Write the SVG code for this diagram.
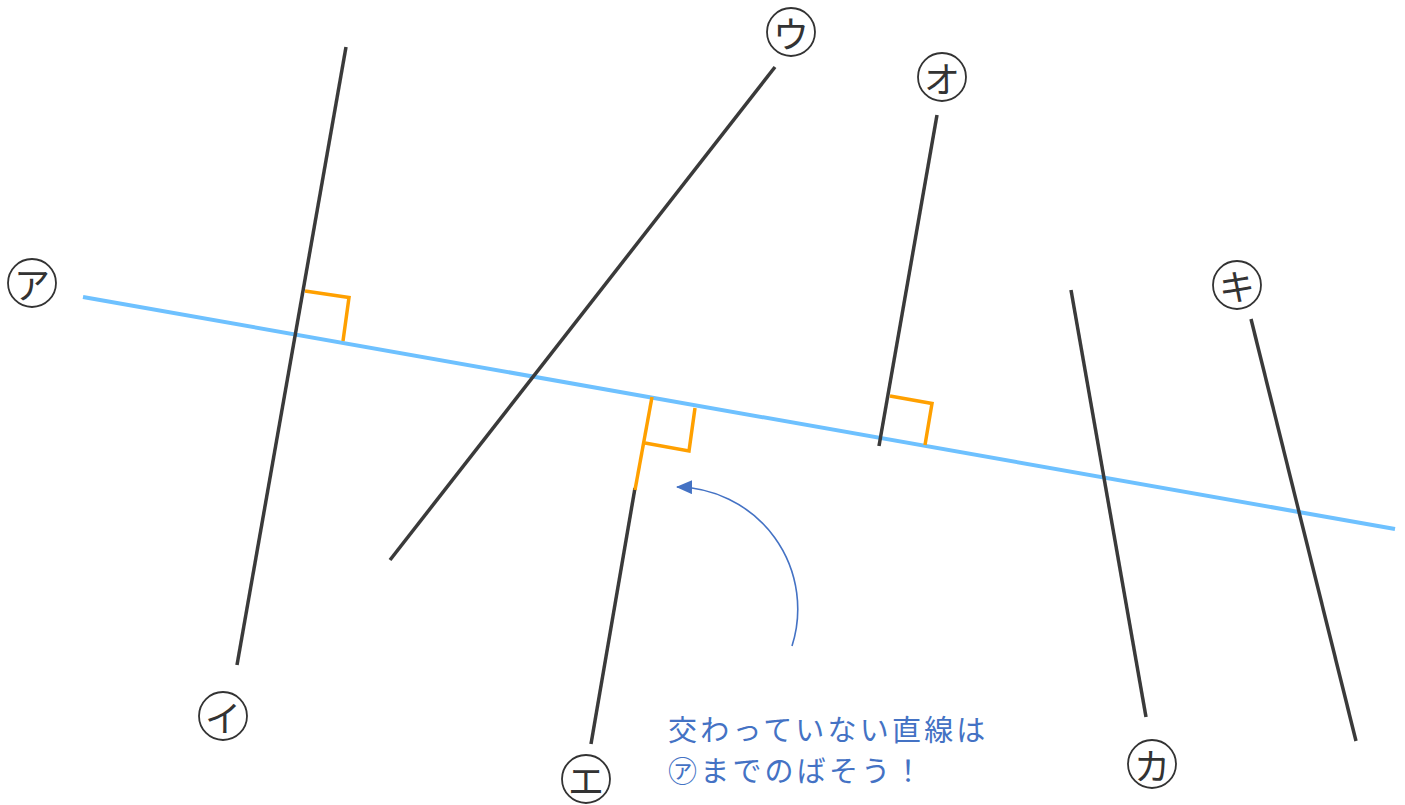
<svg xmlns="http://www.w3.org/2000/svg" width="1405" height="805" viewBox="0 0 1405 805">
<style>
.ln{stroke:#3a3a3a;stroke-width:3.5;fill:none;stroke-linecap:butt}
.or{stroke:#FFA000;stroke-width:3.5;fill:none}
.bl{stroke:#6EC1FF;stroke-width:4;fill:none}
.lc{fill:#fff;stroke:#333;stroke-width:1.8}
.lt{font-family:"Noto Sans CJK JP","Noto Sans CJK SC",sans-serif;font-size:36px;fill:#333;text-anchor:middle;dominant-baseline:central}
.note{font-family:"Noto Sans CJK JP","Noto Sans CJK SC",sans-serif;font-size:29px;fill:#4472C4;letter-spacing:3.2px}
</style>
<defs>
<marker id="ah" markerWidth="16" markerHeight="14" refX="15" refY="7" orient="auto" markerUnits="userSpaceOnUse">
<path d="M0,0 L16,7 L0,14 Z" fill="#4472C4"/>
</marker>
</defs>
<g id="connectors">
<line class="bl" x1="83" y1="297" x2="1395" y2="529"/>
<line class="ln" x1="346" y1="47" x2="237" y2="665"/>
<line class="ln" x1="775" y1="67" x2="390" y2="560"/>
<line class="ln" x1="635" y1="488" x2="591" y2="744"/>
<line class="or" x1="652" y1="397" x2="635" y2="490"/>
<line class="ln" x1="937" y1="115" x2="879" y2="446"/>
<line class="ln" x1="1071" y1="290" x2="1146" y2="717"/>
<line class="ln" x1="1251" y1="319" x2="1356" y2="741"/>
<polyline class="or" points="305,291 349,297.5 343,341"/>
<polyline class="or" points="645,443 689,451 695,408"/>
<polyline class="or" points="890,396 932,403.5 925,445"/>
<path d="M792,646 A122,122 0 0 0 677,487" stroke="#4472C4" stroke-width="1.6" fill="none" marker-end="url(#ah)"/>
</g>
<g id="label-a"><circle class="lc" cx="32" cy="283" r="24"/><text class="lt" x="32" y="283">ア</text></g>
<g id="label-i"><circle class="lc" cx="223" cy="716" r="24"/><text class="lt" x="223" y="716">イ</text></g>
<g id="label-u"><circle class="lc" cx="791" cy="32" r="24"/><text class="lt" x="791" y="32">ウ</text></g>
<g id="label-e"><circle class="lc" cx="586" cy="779" r="24"/><text class="lt" x="586" y="779">エ</text></g>
<g id="label-o"><circle class="lc" cx="942" cy="77" r="24"/><text class="lt" x="942" y="77">オ</text></g>
<g id="label-ka"><circle class="lc" cx="1152" cy="764" r="24"/><text class="lt" x="1152" y="764">カ</text></g>
<g id="label-ki"><circle class="lc" cx="1237" cy="285" r="24"/><text class="lt" x="1237" y="285">キ</text></g>
<g id="note">
<text class="note" x="668" y="741">交わっていない直線は</text>
<text class="note" x="668" y="782">㋐までのばそう！</text>
</g>
</svg>
